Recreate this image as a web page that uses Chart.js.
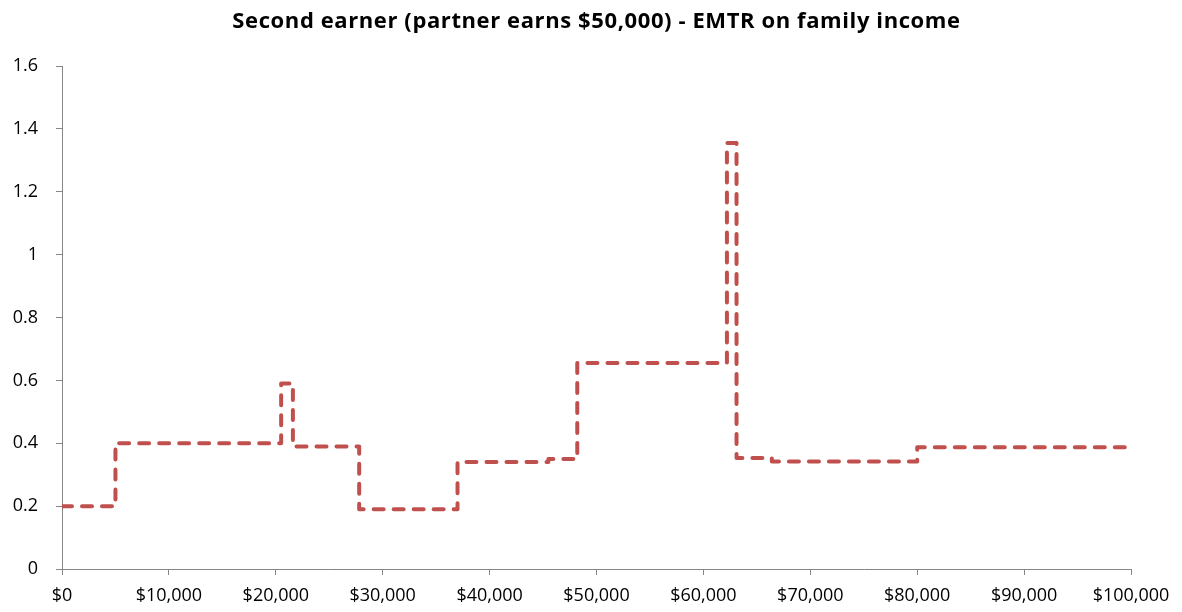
<!DOCTYPE html>
<html>
<head>
<meta charset="utf-8">
<script src="https://cdn.jsdelivr.net/npm/chart.js@4"></script>
<style>
  html, body { margin: 0; padding: 0; background: #fff; }
  #wrap { width: 1182px; height: 612px; }
</style>
</head>
<body>
<div id="wrap"><canvas id="emtrChart"></canvas></div>
<script>
// Family income where the EMTR changes, and the EMTR from that point on
const incomeBreaks = [0, 5000, 20500, 21600, 27800, 37000, 45500, 48200, 62200, 63100, 66400, 80000, 100000];
const emtrValues = [0.2, 0.4, 0.59, 0.39, 0.19, 0.34, 0.35, 0.655, 1.355, 0.353, 0.342, 0.387, 0.387];
const yTickLabels = ['0', '0.2', '0.4', '0.6', '0.8', '1', '1.2', '1.4', '1.6'];
const chartTitle = 'Second earner (partner earns $50,000) - EMTR on family income';

const points = incomeBreaks.map((x, i) => ({ x: x, y: emtrValues[i] }));
const axisGrey = '#868686';
const fontFamily = '"Open Sans", Lato, sans-serif';
const labelFont = { family: fontFamily, size: 18 };

// Title centred over the plot area, like the spreadsheet original
const plotTitle = {
    id: 'plotTitle',
    afterDraw(chart) {
        const c = chart.ctx;
        const area = chart.chartArea;
        c.save();
        c.font = 'bold 22px ' + fontFamily;
        c.letterSpacing = '0.6px';
        c.fillStyle = '#000';
        c.textAlign = 'center';
        c.textBaseline = 'middle';
        c.fillText(chartTitle, (area.left + area.right) / 2, 22);
        c.restore();
    }
};

const ctx = document.getElementById('emtrChart').getContext('2d');

new Chart(ctx, {
    type: 'line',
    data: {
        datasets: [{
            label: 'EMTR',
            data: points,
            stepped: 'before',
            borderColor: '#C0504D',
            borderWidth: 4,
            borderDash: [10, 10],
            borderCapStyle: 'round',
            borderJoinStyle: 'round',
            pointRadius: 0,
            fill: false
        }]
    },
    options: {
        responsive: true,
        maintainAspectRatio: false,
        animation: false,
        layout: { padding: { left: 0, right: 51, top: 66, bottom: 0 } },
        scales: {
            x: {
                type: 'linear',
                min: 0,
                max: 100000,
                grid: { drawOnChartArea: false, color: axisGrey, tickLength: 6 },
                border: { color: axisGrey, width: 1 },
                ticks: {
                    stepSize: 10000,
                    color: '#000',
                    font: labelFont,
                    maxRotation: 0,
                    padding: 10,
                    callback: v => '$' + v.toLocaleString('en-US')
                },
                afterFit: scale => { scale.height = 43; }
            },
            y: {
                min: 0,
                max: 1.6,
                grid: { drawOnChartArea: false, color: axisGrey, tickLength: 6 },
                border: { color: axisGrey, width: 1 },
                ticks: {
                    stepSize: 0.2,
                    color: '#000',
                    font: labelFont,
                    padding: 18,
                    callback: (v, i) => yTickLabels[i]
                },
                afterFit: scale => { scale.width = 62; }
            }
        },
        plugins: {
            legend: { display: false },
            tooltip: { enabled: false },
            title: { display: false }
        }
    },
    plugins: [plotTitle]
});
</script>
</body>
</html>
